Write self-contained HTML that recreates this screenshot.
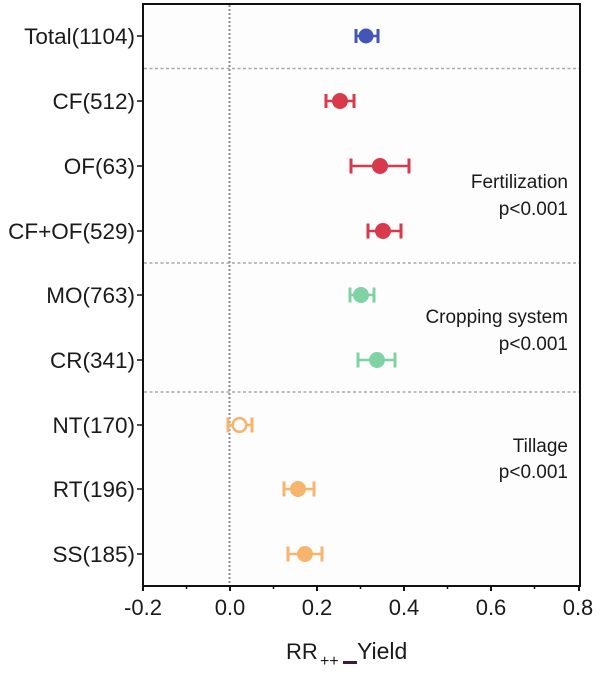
<!DOCTYPE html>
<html>
<head>
<meta charset="utf-8">
<style>
  html, body { margin: 0; padding: 0; background: #ffffff; }
  svg { display: block; }
  text { font-family: "Liberation Sans", Arial, sans-serif; fill: #1a1a1a; }
</style>
</head>
<body>
<svg width="600" height="675" viewBox="0 0 600 675" xmlns="http://www.w3.org/2000/svg">
  <rect x="0" y="0" width="600" height="675" fill="#ffffff"/>
  <rect x="143" y="4" width="437" height="582" fill="#fdfdfe"/>

  <!-- separators -->
  <g stroke="#a8a8a8" stroke-width="1.5" stroke-dasharray="3,2.5">
    <line x1="144" y1="68.5" x2="579" y2="68.5"/>
    <line x1="144" y1="263" x2="579" y2="263"/>
    <line x1="144" y1="392" x2="579" y2="392"/>
  </g>
  <!-- zero line -->
  <line x1="229.5" y1="5" x2="229.5" y2="585" stroke="#8c8c8c" stroke-width="2" stroke-dasharray="2,2"/>

  <!-- frame -->
  <rect x="143" y="4" width="437" height="582" fill="none" stroke="#111" stroke-width="2"/>

  <!-- y ticks -->
  <g stroke="#111" stroke-width="1.5">
    <line x1="137" y1="36" x2="143" y2="36"/>
    <line x1="137" y1="101" x2="143" y2="101"/>
    <line x1="137" y1="166" x2="143" y2="166"/>
    <line x1="137" y1="231" x2="143" y2="231"/>
    <line x1="137" y1="295" x2="143" y2="295"/>
    <line x1="137" y1="360" x2="143" y2="360"/>
    <line x1="137" y1="425" x2="143" y2="425"/>
    <line x1="137" y1="489" x2="143" y2="489"/>
    <line x1="137" y1="554" x2="143" y2="554"/>
  </g>

  <!-- x ticks -->
  <g stroke="#111" stroke-width="2">
    <line x1="143" y1="586" x2="143" y2="591"/>
    <line x1="230" y1="586" x2="230" y2="591"/>
    <line x1="317" y1="586" x2="317" y2="591"/>
    <line x1="404" y1="586" x2="404" y2="591"/>
    <line x1="491" y1="586" x2="491" y2="591"/>
    <line x1="579" y1="586" x2="579" y2="591"/>
  </g>
  <g stroke="#111" stroke-width="1.5">
    <line x1="186.5" y1="586" x2="186.5" y2="589"/>
    <line x1="273.5" y1="586" x2="273.5" y2="589"/>
    <line x1="360.5" y1="586" x2="360.5" y2="589"/>
    <line x1="447.5" y1="586" x2="447.5" y2="589"/>
    <line x1="534.5" y1="586" x2="534.5" y2="589"/>
  </g>

  <!-- x tick labels -->
  <g font-size="22" text-anchor="middle">
    <text x="143" y="615">-0.2</text>
    <text x="230" y="615">0.0</text>
    <text x="317" y="615">0.2</text>
    <text x="404" y="615">0.4</text>
    <text x="491" y="615">0.6</text>
    <text x="578" y="615">0.8</text>
  </g>

  <!-- y labels -->
  <g font-size="22.5" text-anchor="end">
    <text x="135" y="44">Total(1104)</text>
    <text x="135" y="109">CF(512)</text>
    <text x="135" y="174">OF(63)</text>
    <text x="135" y="239">CF+OF(529)</text>
    <text x="135" y="303">MO(763)</text>
    <text x="135" y="368">CR(341)</text>
    <text x="135" y="433">NT(170)</text>
    <text x="135" y="497">RT(196)</text>
    <text x="135" y="562">SS(185)</text>
  </g>

  <!-- group labels -->
  <g font-size="19" text-anchor="end">
    <text x="568" y="188">Fertilization</text>
    <text x="568" y="215">p&lt;0.001</text>
    <text x="568" y="323">Cropping system</text>
    <text x="568" y="350">p&lt;0.001</text>
    <text x="568" y="452">Tillage</text>
    <text x="568" y="478">p&lt;0.001</text>
  </g>

  <!-- series -->
  <!-- Total -->
  <g stroke="#4455b8" stroke-width="2.5" fill="#4455b8">
    <line x1="356" y1="36" x2="378" y2="36"/>
    <line x1="356" y1="29" x2="356" y2="43" stroke-width="3"/>
    <line x1="378" y1="29" x2="378" y2="43" stroke-width="3"/>
    <circle cx="366" cy="36" r="7.5" stroke="none"/>
  </g>
  <!-- Fertilization -->
  <g stroke="#d83a4c" stroke-width="2.5" fill="#d83a4c">
    <line x1="326" y1="101" x2="354" y2="101"/>
    <line x1="326" y1="94" x2="326" y2="108" stroke-width="3"/>
    <line x1="354" y1="94" x2="354" y2="108" stroke-width="3"/>
    <circle cx="340" cy="101" r="8" stroke="none"/>

    <line x1="351" y1="166" x2="409" y2="166"/>
    <line x1="351" y1="158.5" x2="351" y2="173.5" stroke-width="3"/>
    <line x1="409" y1="158.5" x2="409" y2="173.5" stroke-width="3"/>
    <circle cx="380" cy="166" r="8" stroke="none"/>

    <line x1="368" y1="231" x2="401" y2="231"/>
    <line x1="368" y1="223.5" x2="368" y2="238.5" stroke-width="3"/>
    <line x1="401" y1="223.5" x2="401" y2="238.5" stroke-width="3"/>
    <circle cx="383" cy="231" r="8" stroke="none"/>
  </g>
  <!-- Cropping system -->
  <g stroke="#7fd2a1" stroke-width="2.5" fill="#7fd2a1">
    <line x1="350" y1="295" x2="374" y2="295"/>
    <line x1="350" y1="287.5" x2="350" y2="302.5" stroke-width="3"/>
    <line x1="374" y1="287.5" x2="374" y2="302.5" stroke-width="3"/>
    <circle cx="361" cy="295" r="8" stroke="none"/>

    <line x1="358" y1="360" x2="395" y2="360"/>
    <line x1="358" y1="352.5" x2="358" y2="367.5" stroke-width="3"/>
    <line x1="395" y1="352.5" x2="395" y2="367.5" stroke-width="3"/>
    <circle cx="377" cy="360" r="8" stroke="none"/>
  </g>
  <!-- Tillage -->
  <g stroke="#f7b46c" stroke-width="2.5" fill="#f7b46c">
    <line x1="228" y1="425" x2="252" y2="425"/>
    <line x1="228" y1="417.5" x2="228" y2="432.5" stroke-width="3"/>
    <line x1="252" y1="417.5" x2="252" y2="432.5" stroke-width="3"/>
    <circle cx="239.5" cy="425" r="6.8" fill="#fdfdfe" stroke-width="2.6"/>

    <line x1="284" y1="489" x2="314" y2="489"/>
    <line x1="284" y1="481.5" x2="284" y2="496.5" stroke-width="3"/>
    <line x1="314" y1="481.5" x2="314" y2="496.5" stroke-width="3"/>
    <circle cx="298" cy="489" r="8" stroke="none"/>

    <line x1="288" y1="554" x2="322" y2="554"/>
    <line x1="288" y1="546.5" x2="288" y2="561.5" stroke-width="3"/>
    <line x1="322" y1="546.5" x2="322" y2="561.5" stroke-width="3"/>
    <circle cx="305" cy="554" r="8" stroke="none"/>
  </g>

  <!-- axis title -->
  <text x="286" y="659" font-size="22">RR</text>
  <text x="320" y="666" font-size="16">++</text>
  <rect x="343" y="661" width="14" height="3" fill="#3a1d3a"/>
  <text x="357" y="659" font-size="23">Yield</text>
</svg>
</body>
</html>
